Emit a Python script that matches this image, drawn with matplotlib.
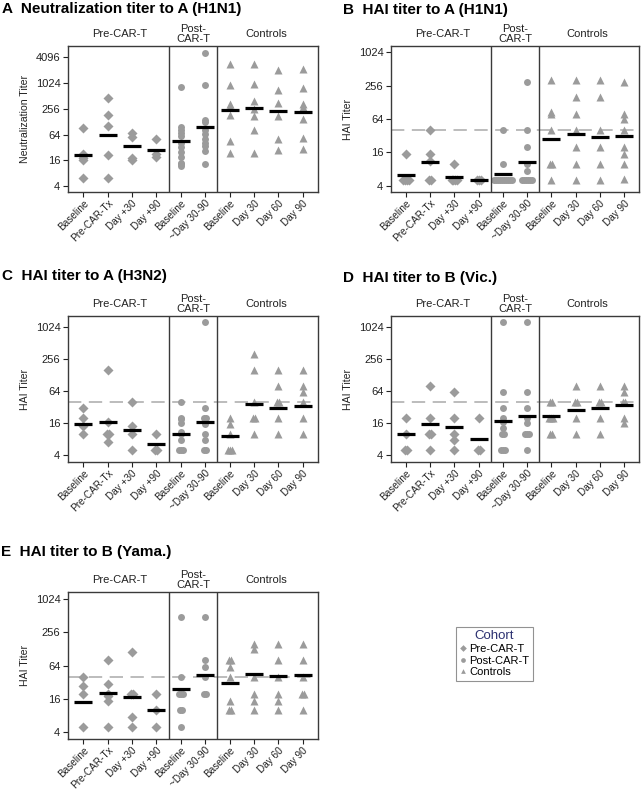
import numpy as np
import matplotlib.pyplot as plt
from matplotlib.lines import Line2D
import matplotlib.transforms as mtrans

plt.rcParams['font.family'] = ['Liberation Sans', 'DejaVu Sans']

# categories along the x axis
categories = ['Baseline', 'Pre-CAR-Tx', 'Day +30', 'Day +90',
              'Baseline', '~Day 30-90',
              'Baseline', 'Day 30', 'Day 60', 'Day 90']
group_names = ['Pre-CAR-T', 'Post-\nCAR-T', 'Controls']
group_centers = [1.5, 4.5, 7.5]
cohort_of_cat = [0, 0, 0, 0, 1, 1, 2, 2, 2, 2]
cohort_labels = ['Pre-CAR-T', 'Post-CAR-T', 'Controls']

# A: neutralization titer to A (H1N1)
neut_h1n1 = [[90, 23, 20, 18, 16, 6], [465, 180, 100, 21, 6], [70, 55, 18, 16], [50, 22, 19],
             [830, 95, 82, 70, 60, 40, 32, 25, 19, 14, 13, 12],
             [5200, 940, 140, 125, 82, 66, 51, 40, 35, 27, 13],
             [2800, 900, 325, 290, 180, 46, 24], [2900, 990, 400, 256, 170, 80, 24],
             [2100, 715, 345, 170, 50, 28], [2200, 780, 335, 280, 145, 53, 30]]
neut_h1n1_gm = [21, 64, 35, 27.5, 45, 95, 234, 265, 226, 218]

# B: HAI titer to A (H1N1)
hai_h1n1 = [[15, 5, 5, 5, 5], [40, 15, 11, 5, 5], [10, 5, 5, 5, 5], [5, 5, 5],
            [40, 10, 5, 5, 5, 5, 5, 5, 5, 5, 5, 5],
            [300, 40, 20, 10, 7.5, 5, 5, 5, 5, 5, 5],
            [320, 84, 80, 40, 10, 10, 5], [320, 160, 80, 40, 20, 10, 5],
            [320, 160, 40, 20, 10, 5], [300, 80, 65, 40, 20, 15, 10, 5.2]]
hai_h1n1_gm = [6.3, 10.9, 5.8, 5, 6.5, 10.6, 28, 34, 30.7, 31]

# C: HAI titer to A (H3N2)
hai_h3n2 = [[30, 20, 14, 10], [160, 17, 10, 10, 7], [40, 14, 10, 5], [10, 5, 5],
            [40, 20, 19, 16, 11, 10, 7.5, 5, 5, 5],
            [1280, 30, 20, 20, 15, 10, 7.5, 5, 5],
            [20, 15, 10, 5, 5, 5], [320, 160, 40, 20, 20, 10],
            [160, 80, 40, 40, 20, 10], [160, 80, 60, 40, 20, 10]]
hai_h3n2_gm = [15.5, 16.7, 11.6, 6.4, 10, 17, 9, 37, 30.7, 33]

# D: HAI titer to B (Vic.)
hai_bvic = [[20, 10, 5, 5], [80, 20, 10, 10, 5], [60, 20, 10, 7.5, 5], [20, 5, 5],
            [1280, 60, 30, 20, 17, 13, 10, 10, 5, 5, 5],
            [1280, 60, 30, 20, 16, 10, 10, 10, 5],
            [40, 40, 20, 20, 20, 10, 10], [80, 40, 40, 20, 10],
            [80, 40, 40, 20, 10], [80, 60, 40, 40, 20, 16]]
hai_bvic_gm = [10, 15.3, 13.6, 8, 17.5, 21.4, 22, 28.5, 30, 35]

# E: HAI titer to B (Yama.)
hai_byam = [[40, 28, 20, 5], [80, 30, 20, 18, 15, 5], [115, 20, 20, 7.5, 5], [20, 10, 5],
            [490, 40, 20, 20, 20, 10, 10, 5],
            [480, 80, 60, 40, 20, 20],
            [80, 80, 60, 40, 15, 10, 10], [160, 130, 40, 20, 15, 10],
            [160, 80, 40, 20, 15, 10], [160, 80, 40, 20, 20, 10]]
hai_byam_gm = [14.3, 20.5, 17.6, 10.1, 24, 43, 30.7, 44.6, 41.6, 42.8]

hai_cutoff = 40

W, H = 641, 791
fig = plt.figure(figsize=(W / 100, H / 100), dpi=100)

GRAY = '#9b9b9b'
EDGE = '#3a3a3a'
MARK = ['D', 'o', '^']
MSIZE = [4.6, 5.0, 5.8]


def frame(l, t, r, b):
    return [l / W, 1 - b / H, (r - l) / W, (b - t) / H]


def draw_panel(box, values, means, ylabel, yticks, ylim, title, title_xy, cutoff=None):
    ax = fig.add_axes(frame(*box))
    ax.set_yscale('log', base=2)
    for i, vals in enumerate(values):
        c = cohort_of_cat[i]
        counts = {v: vals.count(v) for v in vals}
        seen = {}
        xs = []
        for v in vals:
            k = seen.get(v, 0)
            seen[v] = k + 1
            xs.append(i + (k - (counts[v] - 1) / 2) * 0.08)
        ax.plot(xs, vals, linestyle='none', marker=MARK[c], ms=MSIZE[c],
                color=GRAY, mec='none', zorder=3)
        ax.plot([i - 0.37, i + 0.37], [means[i], means[i]], color='black',
                lw=2.3, solid_capstyle='butt', zorder=4)
    if cutoff is not None:
        ax.axhline(cutoff, color='#b0b0b0', lw=1.2, ls=(0, (8, 4.5)), zorder=2)
    for xd in (3.5, 5.5):
        ax.axvline(xd, color=EDGE, lw=1.0, zorder=5)
    ax.set_xlim(-0.62, 9.62)
    ax.set_ylim(*ylim)
    ax.set_yticks(yticks)
    ax.set_yticklabels([str(t) for t in yticks])
    ax.minorticks_off()
    ax.set_xticks(range(len(categories)))
    ax.set_xticklabels(categories, rotation=45, ha='right', rotation_mode='anchor')
    ax.tick_params(axis='y', labelsize=8, colors='#222222', length=3.5, width=0.8, pad=2)
    ax.tick_params(axis='x', labelsize=7.2, colors='#222222', length=3.5, width=0.8, pad=1)
    for sp in ax.spines.values():
        sp.set_color(EDGE)
        sp.set_linewidth(1.0)
    ax.set_ylabel(ylabel, fontsize=7.6, color='#222222')
    ax.yaxis.set_label_coords(-38 / (box[2] - box[0]), 0.5)
    trans = mtrans.blended_transform_factory(ax.transData, ax.transAxes)
    up = 1 + 12 / (box[3] - box[1])
    for gx, gn in zip(group_centers, group_names):
        ax.text(gx, up, gn, transform=trans, ha='center', va='center',
                fontsize=8, color='#222222', linespacing=0.95)
    fig.text(title_xy[0] / W, 1 - title_xy[1] / H, title, fontsize=11,
             fontweight='bold', ha='left', va='center')
    return ax


draw_panel((68, 46, 318, 192), neut_h1n1, neut_h1n1_gm, 'Neutralization Titer',
           [4, 16, 64, 256, 1024, 4096], (2 ** 1.534, 2 ** 12.88),
           'A  Neutralization titer to A (H1N1)', (2, 9))
draw_panel((391, 46, 639, 192), hai_h1n1, hai_h1n1_gm, 'HAI Titer',
           [4, 16, 64, 256, 1024], (2 ** 1.62, 2 ** 10.38),
           'B  HAI titer to A (H1N1)', (343, 10), cutoff=hai_cutoff)
draw_panel((68, 316, 318, 462), hai_h3n2, hai_h3n2_gm, 'HAI Titer',
           [4, 16, 64, 256, 1024], (2 ** 1.56, 2 ** 10.69),
           'C  HAI titer to A (H3N2)', (2, 276), cutoff=hai_cutoff)
draw_panel((391, 316, 639, 462), hai_bvic, hai_bvic_gm, 'HAI Titer',
           [4, 16, 64, 256, 1024], (2 ** 1.56, 2 ** 10.69),
           'D  HAI titer to B (Vic.)', (343, 278), cutoff=hai_cutoff)
draw_panel((68, 592, 318, 739), hai_byam, hai_byam_gm, 'HAI Titer',
           [4, 16, 64, 256, 1024], (2 ** 1.6, 2 ** 10.42),
           'E  HAI titer to B (Yama.)', (1, 552), cutoff=hai_cutoff)

handles = [Line2D([], [], linestyle='none', marker=MARK[i], ms=3.4, color=GRAY, mec='none')
           for i in range(3)]
leg = fig.legend(handles, cohort_labels, title='Cohort', loc='upper left',
                 bbox_to_anchor=(456 / W, 1 - 627 / H), fontsize=8, title_fontsize=9.5,
                 frameon=True, fancybox=False, edgecolor='#777777', handlelength=0.6,
                 handletextpad=0.3, borderpad=0.3, labelspacing=0.15, borderaxespad=0)
leg.get_title().set_color('#2b3070')
leg.get_frame().set_linewidth(0.8)

fig.savefig('out.png', dpi=100)
